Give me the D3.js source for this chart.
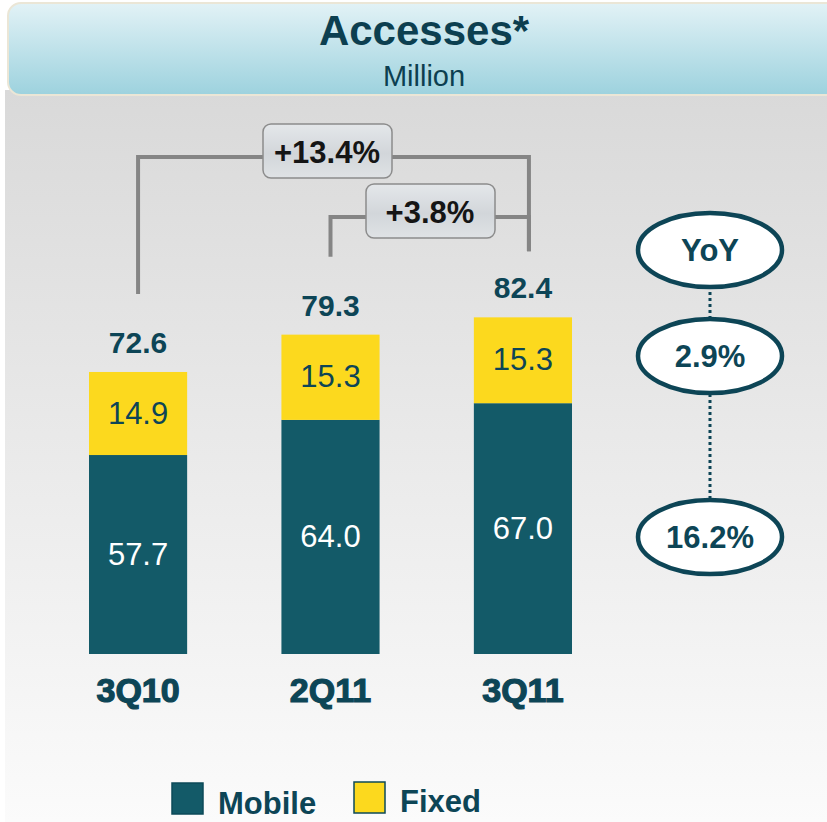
<!DOCTYPE html>
<html>
<head>
<meta charset="utf-8">
<script src="https://cdn.jsdelivr.net/npm/d3@7/dist/d3.min.js"></script>
<style>
  body { margin: 0; background: #fff; }
  text { font-family: "Liberation Sans", Arial, sans-serif; }
</style>
</head>
<body>
<svg class="chart"></svg>
<script>
var categories = ["3Q10", "2Q11", "3Q11"],
    mobile = [57.7, 64.0, 67.0],
    fixed = [14.9, 15.3, 15.3],
    totals = [72.6, 79.3, 82.4],
    growthFrom = ["3Q10", "2Q11"],
    growthTo = ["3Q11", "3Q11"],
    growthLabels = ["+13.4%", "+3.8%"],
    yoyLabels = ["YoY", "2.9%", "16.2%"],
    seriesNames = ["Mobile", "Fixed"];

var width = 827,
    height = 822,
    base = 654;

var teal = "#135a68",
    yellow = "#fcd91e",
    dark = "#0d4556";

var svg = d3.select(".chart")
    .attr("width", width)
    .attr("height", height);

var defs = svg.append("defs");

var bg = defs.append("linearGradient").attr("id", "bg")
    .attr("x1", 0).attr("y1", 0).attr("x2", 0).attr("y2", 1);
bg.append("stop").attr("offset", "0%").attr("stop-color", "#d9d9d9");
bg.append("stop").attr("offset", "100%").attr("stop-color", "#fbfbfb");

var head = defs.append("linearGradient").attr("id", "head")
    .attr("x1", 0).attr("y1", 0).attr("x2", 0).attr("y2", 1);
head.append("stop").attr("offset", "0%").attr("stop-color", "#e2f2f6");
head.append("stop").attr("offset", "100%").attr("stop-color", "#9dd2de");

var box = defs.append("linearGradient").attr("id", "box")
    .attr("x1", 0).attr("y1", 0).attr("x2", 0).attr("y2", 1);
box.append("stop").attr("offset", "0%").attr("stop-color", "#e4e7ea");
box.append("stop").attr("offset", "55%").attr("stop-color", "#d2d6da");
box.append("stop").attr("offset", "100%").attr("stop-color", "#dfe2e5");

// background
svg.append("rect")
    .attr("x", 5).attr("y", 90)
    .attr("width", width - 5).attr("height", height - 90)
    .attr("fill", "url(#bg)");

// title bar
svg.append("rect")
    .attr("x", 8).attr("y", 3)
    .attr("width", width + 20).attr("height", 92)
    .attr("rx", 13)
    .attr("fill", "url(#head)")
    .attr("stroke", "#ebe6d6")
    .attr("stroke-width", 2);

svg.append("text")
    .attr("x", 424).attr("y", 45)
    .attr("text-anchor", "middle")
    .attr("font-size", 42).attr("font-weight", "bold")
    .attr("fill", "#0c3f50")
    .text("Accesses*");

svg.append("text")
    .attr("x", 424).attr("y", 86)
    .attr("text-anchor", "middle")
    .attr("font-size", 29)
    .attr("fill", "#0c3f50")
    .text("Million");

var x = d3.scaleBand()
    .domain(categories)
    .range([89, 572])
    .paddingInner(0.49)
    .paddingOuter(0);

var y = d3.scaleLinear()
    .domain([22, 90])
    .range([base, 275]);

var data = categories.map(function(c, i) {
  return {name: c, mobile: mobile[i], fixed: fixed[i], total: totals[i]};
});

function cx(name) { return x(name) + x.bandwidth() / 2; }

// bars
var g = svg.append("g");

g.selectAll(".mobile")
    .data(data)
  .enter().append("rect")
    .attr("class", "mobile")
    .attr("x", function(d) { return x(d.name); })
    .attr("y", function(d) { return y(d.mobile); })
    .attr("width", x.bandwidth())
    .attr("height", function(d) { return base - y(d.mobile); })
    .attr("fill", teal);

g.selectAll(".fixed")
    .data(data)
  .enter().append("rect")
    .attr("class", "fixed")
    .attr("x", function(d) { return x(d.name); })
    .attr("y", function(d) { return y(d.total); })
    .attr("width", x.bandwidth())
    .attr("height", function(d) { return y(d.mobile) - y(d.total); })
    .attr("fill", yellow);

g.selectAll(".mlabel")
    .data(data)
  .enter().append("text")
    .attr("x", function(d) { return cx(d.name); })
    .attr("y", function(d) { return (base + y(d.mobile)) / 2 + 10; })
    .attr("text-anchor", "middle")
    .attr("font-size", 31)
    .attr("fill", "#fff")
    .text(function(d) { return d.mobile.toFixed(1); });

g.selectAll(".flabel")
    .data(data)
  .enter().append("text")
    .attr("x", function(d) { return cx(d.name); })
    .attr("y", function(d) { return (y(d.mobile) + y(d.total)) / 2 + 10; })
    .attr("text-anchor", "middle")
    .attr("font-size", 31)
    .attr("fill", dark)
    .text(function(d) { return d.fixed.toFixed(1); });

g.selectAll(".tlabel")
    .data(data)
  .enter().append("text")
    .attr("x", function(d) { return cx(d.name); })
    .attr("y", function(d) { return y(d.total) - 19; })
    .attr("text-anchor", "middle")
    .attr("font-size", 30).attr("font-weight", "bold")
    .attr("fill", dark)
    .text(function(d) { return d.total.toFixed(1); });

// category axis labels
g.selectAll(".cat")
    .data(categories)
  .enter().append("text")
    .attr("x", function(d) { return cx(d); })
    .attr("y", 702)
    .attr("text-anchor", "middle")
    .attr("font-size", 34).attr("font-weight", "bold")
    .attr("fill", dark)
    .attr("stroke", dark).attr("stroke-width", 1.2)
    .text(function(d) { return d; });

// growth brackets
var legTop = [157, 217],
    boxLeft = [263, 366],
    totalOf = {};
categories.forEach(function(c, i) { totalOf[c] = totals[i]; });

growthLabels.forEach(function(lbl, i) {
  var x0 = cx(growthFrom[i]), x1 = cx(growthTo[i]) + 6;
  var yb0 = y(totalOf[growthFrom[i]]) - 78,
      yb1 = y(totalOf[growthTo[i]]) - 66;
  svg.append("path")
      .attr("d", "M" + x0 + "," + yb0 + "V" + legTop[i] + "H" + x1 + "V" + yb1)
      .attr("fill", "none")
      .attr("stroke", "#858585")
      .attr("stroke-width", 4);
  svg.append("rect")
      .attr("x", boxLeft[i]).attr("y", legTop[i] - 33)
      .attr("width", 129).attr("height", 54)
      .attr("rx", 8)
      .attr("fill", "url(#box)")
      .attr("stroke", "#8c8c8c")
      .attr("stroke-width", 1.5);
  svg.append("text")
      .attr("x", boxLeft[i] + 64).attr("y", legTop[i] + 6)
      .attr("text-anchor", "middle")
      .attr("font-size", 31).attr("font-weight", "bold")
      .attr("fill", "#151515")
      .text(lbl);
});

// YoY ellipses
var yoyY = [250, 356, 537];

svg.append("line")
    .attr("x1", 710).attr("x2", 710)
    .attr("y1", yoyY[0]).attr("y2", yoyY[2])
    .attr("stroke", dark)
    .attr("stroke-width", 3)
    .attr("stroke-dasharray", "3,3");

var yoy = svg.selectAll(".yoy")
    .data(yoyLabels)
  .enter().append("g")
    .attr("transform", function(d, i) { return "translate(710," + yoyY[i] + ")"; });

yoy.append("ellipse")
    .attr("rx", 72).attr("ry", 37)
    .attr("fill", "#fff")
    .attr("stroke", dark)
    .attr("stroke-width", 4.5);

yoy.append("text")
    .attr("y", 11)
    .attr("text-anchor", "middle")
    .attr("font-size", 31).attr("font-weight", "bold")
    .attr("fill", dark)
    .text(function(d) { return d; });

// legend
var legX = [172, 354],
    legColors = [teal, yellow];

var legend = svg.selectAll(".legend")
    .data(seriesNames)
  .enter().append("g")
    .attr("transform", function(d, i) { return "translate(" + legX[i] + "," + (i ? 782 : 783) + ")"; });

legend.append("rect")
    .attr("width", 31).attr("height", 31)
    .attr("fill", function(d, i) { return legColors[i]; })
    .attr("stroke", "#0d4a58")
    .attr("stroke-width", 1.5);

legend.append("text")
    .attr("x", 46).attr("y", function(d, i) { return i ? 30 : 31; })
    .attr("font-size", 31).attr("font-weight", "bold")
    .attr("fill", dark)
    .text(function(d) { return d; });
</script>
</body>
</html>
